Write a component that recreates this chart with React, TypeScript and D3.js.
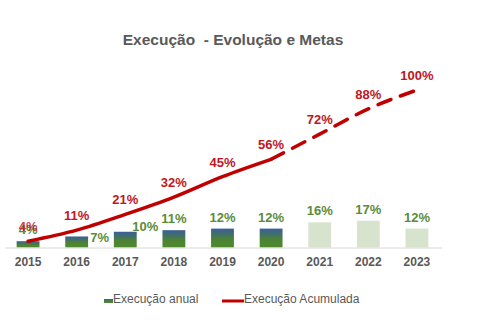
import React from "react";
import * as d3 from "d3";

const years = ["2015", "2016", "2017", "2018", "2019", "2020", "2021", "2022", "2023"];
const annual = [4, 7, 10, 11, 12, 12, 16, 17, 12];
const cumulative = [4, 11, 21, 32, 45, 56, 72, 88, 100];
const executedCount = 6; // years 2015–2020 executed; rest are goals
const annualLabelDx = [0, 23, 20, 0, 0, 0, 0, 0, 0];
const annualLabelDy = [0, 13, 6, 0, 0, 0, 0, 0, 0];

const W = 491;
const H = 326;
const RED = "#c00000";
const RED_TXT = "#c0161e";
const GREEN_TXT = "#5b8c3a";
const GRAY = "#595959";
const FONT = "'Liberation Sans', Arial, sans-serif";

export default function App() {
  const x = d3.scaleBand<string>().domain(years).range([4, 441]).paddingInner(0.53).paddingOuter(0.26);
  const y = d3.scaleLinear().domain([0, 100]).range([247.5, 90]);
  const cx = (i: number) => (x(years[i]) as number) + x.bandwidth() / 2;

  const pts = cumulative.map((v, i) => [cx(i), y(v)] as [number, number]);
  const line = d3.line<[number, number]>().x((d) => d[0]).y((d) => d[1]).curve(d3.curveMonotoneX);
  const solid = line(pts.slice(0, executedCount)) as string;
  const dashed = line(pts.slice(executedCount - 1)) as string;

  return (
    <svg width={W} height={H} style={{ position: "absolute", left: 0, top: 0, background: "#fff" }} fontFamily={FONT}>
      <defs>
        <linearGradient id="barGrad" x1="0" y1="0" x2="0" y2="1">
          <stop offset="0%" stopColor="#3a6096" />
          <stop offset="30%" stopColor="#416f6a" />
          <stop offset="55%" stopColor="#4c8235" />
          <stop offset="100%" stopColor="#4f8a2c" />
        </linearGradient>
      </defs>
      <text x={233} y={45} textAnchor="middle" fontSize={15.5} fontWeight="bold" fill={GRAY} style={{ whiteSpace: "pre" }}>
        {"Execução  - Evolução e Metas"}
      </text>

      {annual.map((v, i) => (
        <rect
          key={"b" + i}
          x={x(years[i])}
          y={y(v)}
          width={x.bandwidth()}
          height={y(0) - y(v)}
          fill={i < executedCount ? "url(#barGrad)" : "#d7e3cd"}
        />
      ))}

      <line x1={5} x2={442} y1={y(0) + 0.5} y2={y(0) + 0.5} stroke="#d9d9d9" strokeWidth={1} />

      {years.map((yr, i) => (
        <text key={"x" + i} x={cx(i)} y={266} textAnchor="middle" fontSize={12} fontWeight="bold" fill={GRAY}>
          {yr}
        </text>
      ))}

      {annual.map((v, i) => (
        <text
          key={"a" + i}
          x={cx(i) + annualLabelDx[i]}
          y={y(v) - 7 + annualLabelDy[i]}
          textAnchor="middle"
          fontSize={13}
          fontWeight="bold"
          fill={GREEN_TXT}
        >
          {v + "%"}
        </text>
      ))}

      <path d={solid} fill="none" stroke={RED} strokeWidth={3.5} strokeLinecap="round" />
      <path d={dashed} fill="none" stroke={RED} strokeWidth={3.5} strokeDasharray="14 10" strokeLinecap="round" />

      {cumulative.map((v, i) => (
        <text
          key={"c" + i}
          x={cx(i)}
          y={y(v) - 10}
          textAnchor="middle"
          fontSize={13}
          fontWeight="bold"
          fill={RED_TXT}
          opacity={i === 0 ? 0.8 : 1}
        >
          {v + "%"}
        </text>
      ))}

      <rect x={104} y={299} width={9} height={4} fill="url(#barGrad)" />
      <text x={113} y={302.5} fontSize={12} fill={GRAY}>Execução anual</text>
      <line x1={222} x2={244} y1={301} y2={301} stroke={RED} strokeWidth={3} />
      <text x={244} y={302.5} fontSize={12} fill={GRAY}>Execução Acumulada</text>
    </svg>
  );
}
